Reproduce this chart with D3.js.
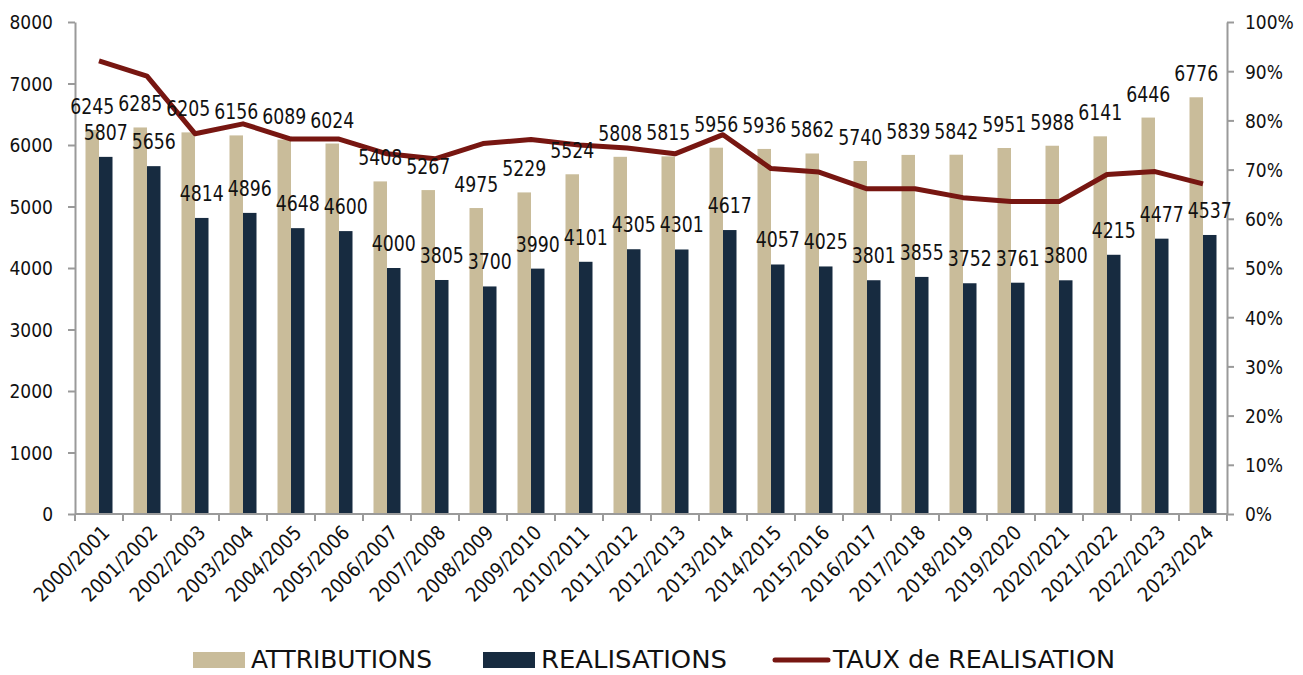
<!DOCTYPE html>
<html><head><meta charset="utf-8">
<script src="https://cdn.jsdelivr.net/npm/d3@7"></script>
<style>
body{margin:0;background:#fff;}
text{font-family:"DejaVu Sans Condensed","Liberation Sans Narrow",sans-serif;fill:#111;}
</style></head>
<body><svg id="c" width="1303" height="675"></svg>
<script>
const categories = ["2000/2001","2001/2002","2002/2003","2003/2004","2004/2005","2005/2006","2006/2007","2007/2008","2008/2009","2009/2010","2010/2011","2011/2012","2012/2013","2013/2014","2014/2015","2015/2016","2016/2017","2017/2018","2018/2019","2019/2020","2020/2021","2021/2022","2022/2023","2023/2024"];
const attributions = [6245,6285,6205,6156,6089,6024,5408,5267,4975,5229,5524,5808,5815,5956,5936,5862,5740,5839,5842,5951,5988,6141,6446,6776];
const realisations = [5807,5656,4814,4896,4648,4600,4000,3805,3700,3990,4101,4305,4301,4617,4057,4025,3801,3855,3752,3761,3800,4215,4477,4537];
const taux = [0.921,0.890,0.773,0.793,0.762,0.762,0.732,0.722,0.753,0.761,0.750,0.744,0.732,0.771,0.702,0.695,0.661,0.661,0.643,0.635,0.635,0.690,0.696,0.671];
const leftTicks = [0,1000,2000,3000,4000,5000,6000,7000,8000];
const rightTicks = [0,0.1,0.2,0.3,0.4,0.5,0.6,0.7,0.8,0.9,1.0];
const seriesNames = ["ATTRIBUTIONS","REALISATIONS","TAUX de REALISATION"];
const colors = {att:"#c9bc9a", rea:"#172b40", line:"#771611", axis:"#9a9a9a"};

const svg = d3.select("#c");
const L = 75, R = 1227, T = 22, B = 514;
const x = d3.scaleBand().domain(categories).range([L, R]).paddingInner(0.4375).paddingOuter(0.21875);
const xs = d3.scaleBand().domain(["a","r"]).range([0, x.bandwidth()]);
const y = d3.scaleLinear().domain([0,8000]).range([B, T]);
const y2 = d3.scaleLinear().domain([0,1]).range([B, T]);
const xc = d => x(d) + x.bandwidth()/2;

// bars
const g = svg.append("g");
g.selectAll("rect.a").data(categories).join("rect")
  .attr("x", d => x(d)+xs("a")).attr("width", xs.bandwidth())
  .attr("y", (d,i) => y(attributions[i])).attr("height", (d,i) => B - y(attributions[i]))
  .attr("fill", colors.att);
g.selectAll("rect.r").data(categories).join("rect")
  .attr("x", d => x(d)+xs("r")).attr("width", xs.bandwidth())
  .attr("y", (d,i) => y(realisations[i])).attr("height", (d,i) => B - y(realisations[i]))
  .attr("fill", colors.rea);

// axes
const axStyle = sel => { sel.selectAll("path,line").attr("stroke", colors.axis).attr("stroke-width", 2); sel.selectAll("text").style("font-size","19px").attr("fill","#111").attr("dy","0.36em"); };
svg.append("g").attr("transform",`translate(${L},0)`)
  .call(d3.axisLeft(y).tickValues(leftTicks).tickFormat(d3.format("d")).tickSize(7).tickPadding(15).tickSizeOuter(0))
  .call(axStyle);
svg.append("g").attr("transform",`translate(${R},0)`)
  .call(d3.axisRight(y2).tickValues(rightTicks).tickFormat(d3.format(".0%")).tickSize(7).tickPadding(11).tickSizeOuter(0))
  .call(axStyle);
const xScaleTicks = d3.scalePoint().domain(d3.range(categories.length+1)).range([L,R]);
const xa = svg.append("g").attr("transform",`translate(0,${B})`);
xa.append("line").attr("x1",L).attr("x2",R).attr("stroke",colors.axis).attr("stroke-width",2);
xa.selectAll("line.t").data(d3.range(categories.length+1)).join("line")
  .attr("x1", d => xScaleTicks(d)).attr("x2", d => xScaleTicks(d)).attr("y1",0).attr("y2",7)
  .attr("stroke",colors.axis).attr("stroke-width",2);
xa.selectAll("text").data(categories).join("text")
  .attr("transform", d => `translate(${xc(d)+7},${15}) rotate(-45)`)
  .attr("text-anchor","end").attr("dy","0.35em")
  .style("font-size","20px").text(d => d);

// line
const line = d3.line().x((d,i) => xc(categories[i])).y(d => y2(d));
svg.append("path").datum(taux).attr("d", line).attr("fill","none")
  .attr("stroke", colors.line).attr("stroke-width",5).attr("stroke-linejoin","round");

// labels
const lab = (sel) => sel.attr("text-anchor","middle").style("font-size","22px")
  .attr("textLength",44).attr("lengthAdjust","spacingAndGlyphs");
svg.selectAll("text.la").data(categories).join("text")
  .attr("x", d => x(d)+xs("a")+xs.bandwidth()/2).attr("y",(d,i)=>y(attributions[i])-16)
  .call(lab).text((d,i)=>attributions[i]);
svg.selectAll("text.lr").data(categories).join("text")
  .attr("x", d => x(d)+xs("r")+xs.bandwidth()/2).attr("y",(d,i)=>y(realisations[i])-17)
  .call(lab).text((d,i)=>realisations[i]);

// legend
const lg = svg.append("g").attr("transform","translate(0,660)");
lg.append("rect").attr("x",193).attr("y",-8).attr("width",52).attr("height",16).attr("fill",colors.att);
lg.append("text").attr("x",251).attr("y",8).attr("textLength",181).attr("lengthAdjust","spacingAndGlyphs").style("font-size","24px").text(seriesNames[0]);
lg.append("rect").attr("x",483).attr("y",-8).attr("width",52).attr("height",16).attr("fill",colors.rea);
lg.append("text").attr("x",541).attr("y",8).attr("textLength",186).attr("lengthAdjust","spacingAndGlyphs").style("font-size","24px").text(seriesNames[1]);
lg.append("line").attr("x1",775).attr("x2",828).attr("y1",0).attr("y2",0).attr("stroke",colors.line).attr("stroke-width",5).attr("stroke-linecap","round");
lg.append("text").attr("x",833).attr("y",8).attr("textLength",282).attr("lengthAdjust","spacingAndGlyphs").style("font-size","24px").text(seriesNames[2]);
</script></body></html>
